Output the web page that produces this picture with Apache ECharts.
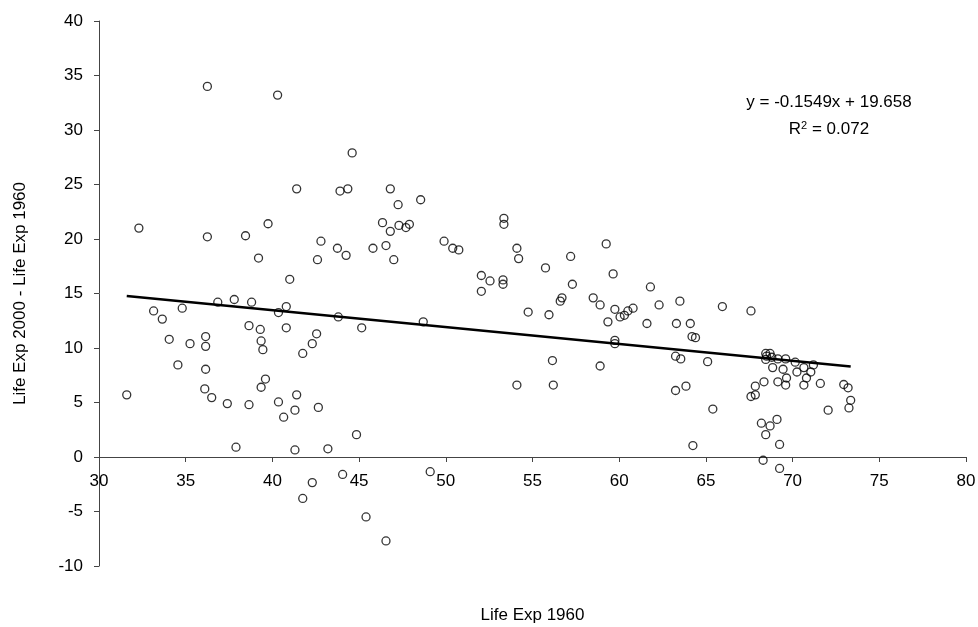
<!DOCTYPE html>
<html>
<head>
<meta charset="utf-8">
<script src="https://cdn.jsdelivr.net/npm/echarts@6/dist/echarts.min.js"></script>
<style>html,body{margin:0;padding:0;background:#fff}#c{width:978px;height:627px}</style>
</head>
<body>
<div id="c"></div>
<script>
// Life expectancy in 1960 (x)
const lifeExp1960 = [
36.25,40.3,44.6,41.4,43.9,44.35,46.8,32.3,36.25,38.45,
39.75,42.8,46.35,46.8,43.75,44.25,45.8,46.55,39.2,42.6,
41.0,36.85,37.8,38.8,33.15,34.8,33.65,40.35,40.8,43.8,
38.65,39.3,40.8,45.15,34.05,35.25,36.15,36.15,39.35,39.45,
42.55,42.3,41.75,34.55,36.15,39.6,39.35,31.6,36.1,36.5,
37.4,38.65,40.35,41.4,41.3,40.65,42.65,44.85,37.9,41.3,
43.2,44.05,42.3,41.75,45.4,46.55,49.1,48.55,47.25,47.3,
47.7,47.9,47.0,49.9,50.4,50.75,53.35,53.35,54.1,54.2,
52.05,52.55,53.3,53.3,52.05,55.75,57.2,57.3,56.6,56.7,
54.75,55.95,48.7,59.25,59.65,58.5,58.9,59.75,60.05,60.3,
60.5,60.8,59.35,61.8,62.3,61.6,63.5,63.3,59.75,59.75,
56.15,58.9,63.25,63.55,54.1,56.2,63.25,65.95,67.6,64.1,
64.2,64.4,65.1,63.85,65.4,64.25,68.45,68.7,68.5,68.8,
68.45,69.15,69.6,70.15,68.85,69.45,70.65,71.2,70.25,71.05,
69.65,70.8,69.15,69.6,70.65,71.6,68.35,67.85,67.85,67.6,
72.95,73.2,73.35,73.25,72.05,69.1,68.2,68.7,68.45,69.25,
68.3,69.25
];
// Life Exp 2000 - Life Exp 1960 (y)
const lifeExpGain = [
34.0,33.2,27.9,24.6,24.4,24.6,24.6,21.0,20.2,20.3,
21.4,19.8,21.5,20.7,19.15,18.5,19.15,19.4,18.25,18.1,
16.3,14.2,14.45,14.2,13.4,13.65,12.65,13.25,13.8,12.85,
12.05,11.7,11.85,11.85,10.8,10.4,11.05,10.15,10.65,9.85,
11.3,10.4,9.5,8.45,8.05,7.15,6.4,5.7,6.25,5.45,
4.9,4.8,5.05,5.7,4.3,3.65,4.55,2.05,0.9,0.65,
0.75,-1.6,-2.35,-3.8,-5.5,-7.7,-1.35,23.6,23.15,21.25,
21.05,21.35,18.1,19.8,19.15,19.0,21.9,21.35,19.15,18.2,
16.65,16.15,16.25,15.85,15.2,17.35,18.4,15.85,14.3,14.6,
13.3,13.05,12.4,19.55,16.8,14.6,13.95,13.55,12.85,13.0,
13.4,13.65,12.4,15.6,13.95,12.25,14.3,12.25,10.7,10.4,
8.85,8.35,9.25,9.0,6.6,6.6,6.1,13.8,13.4,12.25,
11.05,10.95,8.75,6.5,4.4,1.05,9.5,9.5,9.25,9.15,
8.95,9.0,9.0,8.7,8.2,8.05,8.2,8.45,7.8,7.8,
7.25,7.25,6.9,6.6,6.6,6.75,6.9,6.5,5.7,5.55,
6.65,6.35,5.2,4.5,4.3,3.45,3.1,2.85,2.05,1.15,
-0.3,-1.05
];
const trendSlope = -0.1549;
const trendIntercept = 19.658;
const equationText = 'y = -0.1549x + 19.658';
const r2Text = '0.072';
const xTitle = 'Life Exp 1960';
const yTitle = 'Life Exp 2000 - Life Exp 1960';

const points = lifeExp1960.map((x, i) => [x, lifeExpGain[i]]);
const xMin = Math.min(...lifeExp1960), xMax = Math.max(...lifeExp1960);
const trend = [[xMin, trendSlope * xMin + trendIntercept], [xMax, trendSlope * xMax + trendIntercept]];

const FONT = 'Liberation Sans, Arial, sans-serif';
const chart = echarts.init(document.getElementById('c'), null, {renderer: 'canvas'});
chart.setOption({
  animation: false,
  backgroundColor: '#fff',
  textStyle: {fontFamily: FONT},
  title: [
    {text: equationText, left: 829, top: 94, textAlign: 'center', padding: 0,
     textStyle: {fontSize: 17, fontWeight: 'normal', color: '#000', fontFamily: FONT}},
    {text: '{n|R}{s|2}{n| = ' + r2Text + '}', left: 829, top: 120, textAlign: 'center', padding: 0,
     textStyle: {fontSize: 17, fontWeight: 'normal', color: '#000', fontFamily: FONT,
       rich: {n: {fontSize: 17, color: '#000', fontFamily: FONT},
              s: {fontSize: 11, color: '#000', fontFamily: FONT, padding: [0, 0, 8, 0]}}}}
  ],
  grid: {left: 99, right: 12, top: 21, bottom: 61, containLabel: false, outerBoundsMode: 'none'},
  xAxis: {
    type: 'value', min: 30, max: 80, interval: 5,
    position: 'bottom', offset: -109,
    name: xTitle, nameLocation: 'middle', nameGap: 150,
    nameTextStyle: {fontSize: 17, color: '#000', fontFamily: FONT},
    axisLine: {onZero: false, lineStyle: {color: '#444', width: 1}},
    axisTick: {show: true, length: 5, lineStyle: {color: '#444'}},
    axisLabel: {fontSize: 17, color: '#000', margin: 16, fontFamily: FONT},
    splitLine: {show: false}
  },
  yAxis: {
    type: 'value', min: -10, max: 40, interval: 5,
    name: yTitle, nameLocation: 'middle', nameGap: 70,
    nameTextStyle: {fontSize: 17, color: '#000', fontFamily: FONT},
    axisLine: {show: true, onZero: false, lineStyle: {color: '#444', width: 1}},
    axisTick: {show: true, length: 5, lineStyle: {color: '#444'}},
    axisLabel: {fontSize: 17, color: '#000', margin: 16, fontFamily: FONT},
    splitLine: {show: false}
  },
  series: [
    {type: 'scatter', data: points, symbol: 'circle', symbolSize: 8,
     itemStyle: {color: 'rgba(255,255,255,0)', borderColor: '#000', borderWidth: 1.3}},
    {type: 'line', data: trend, symbol: 'none', silent: true,
     lineStyle: {color: '#000', width: 2.5}}
  ]
});
</script>
</body>
</html>
